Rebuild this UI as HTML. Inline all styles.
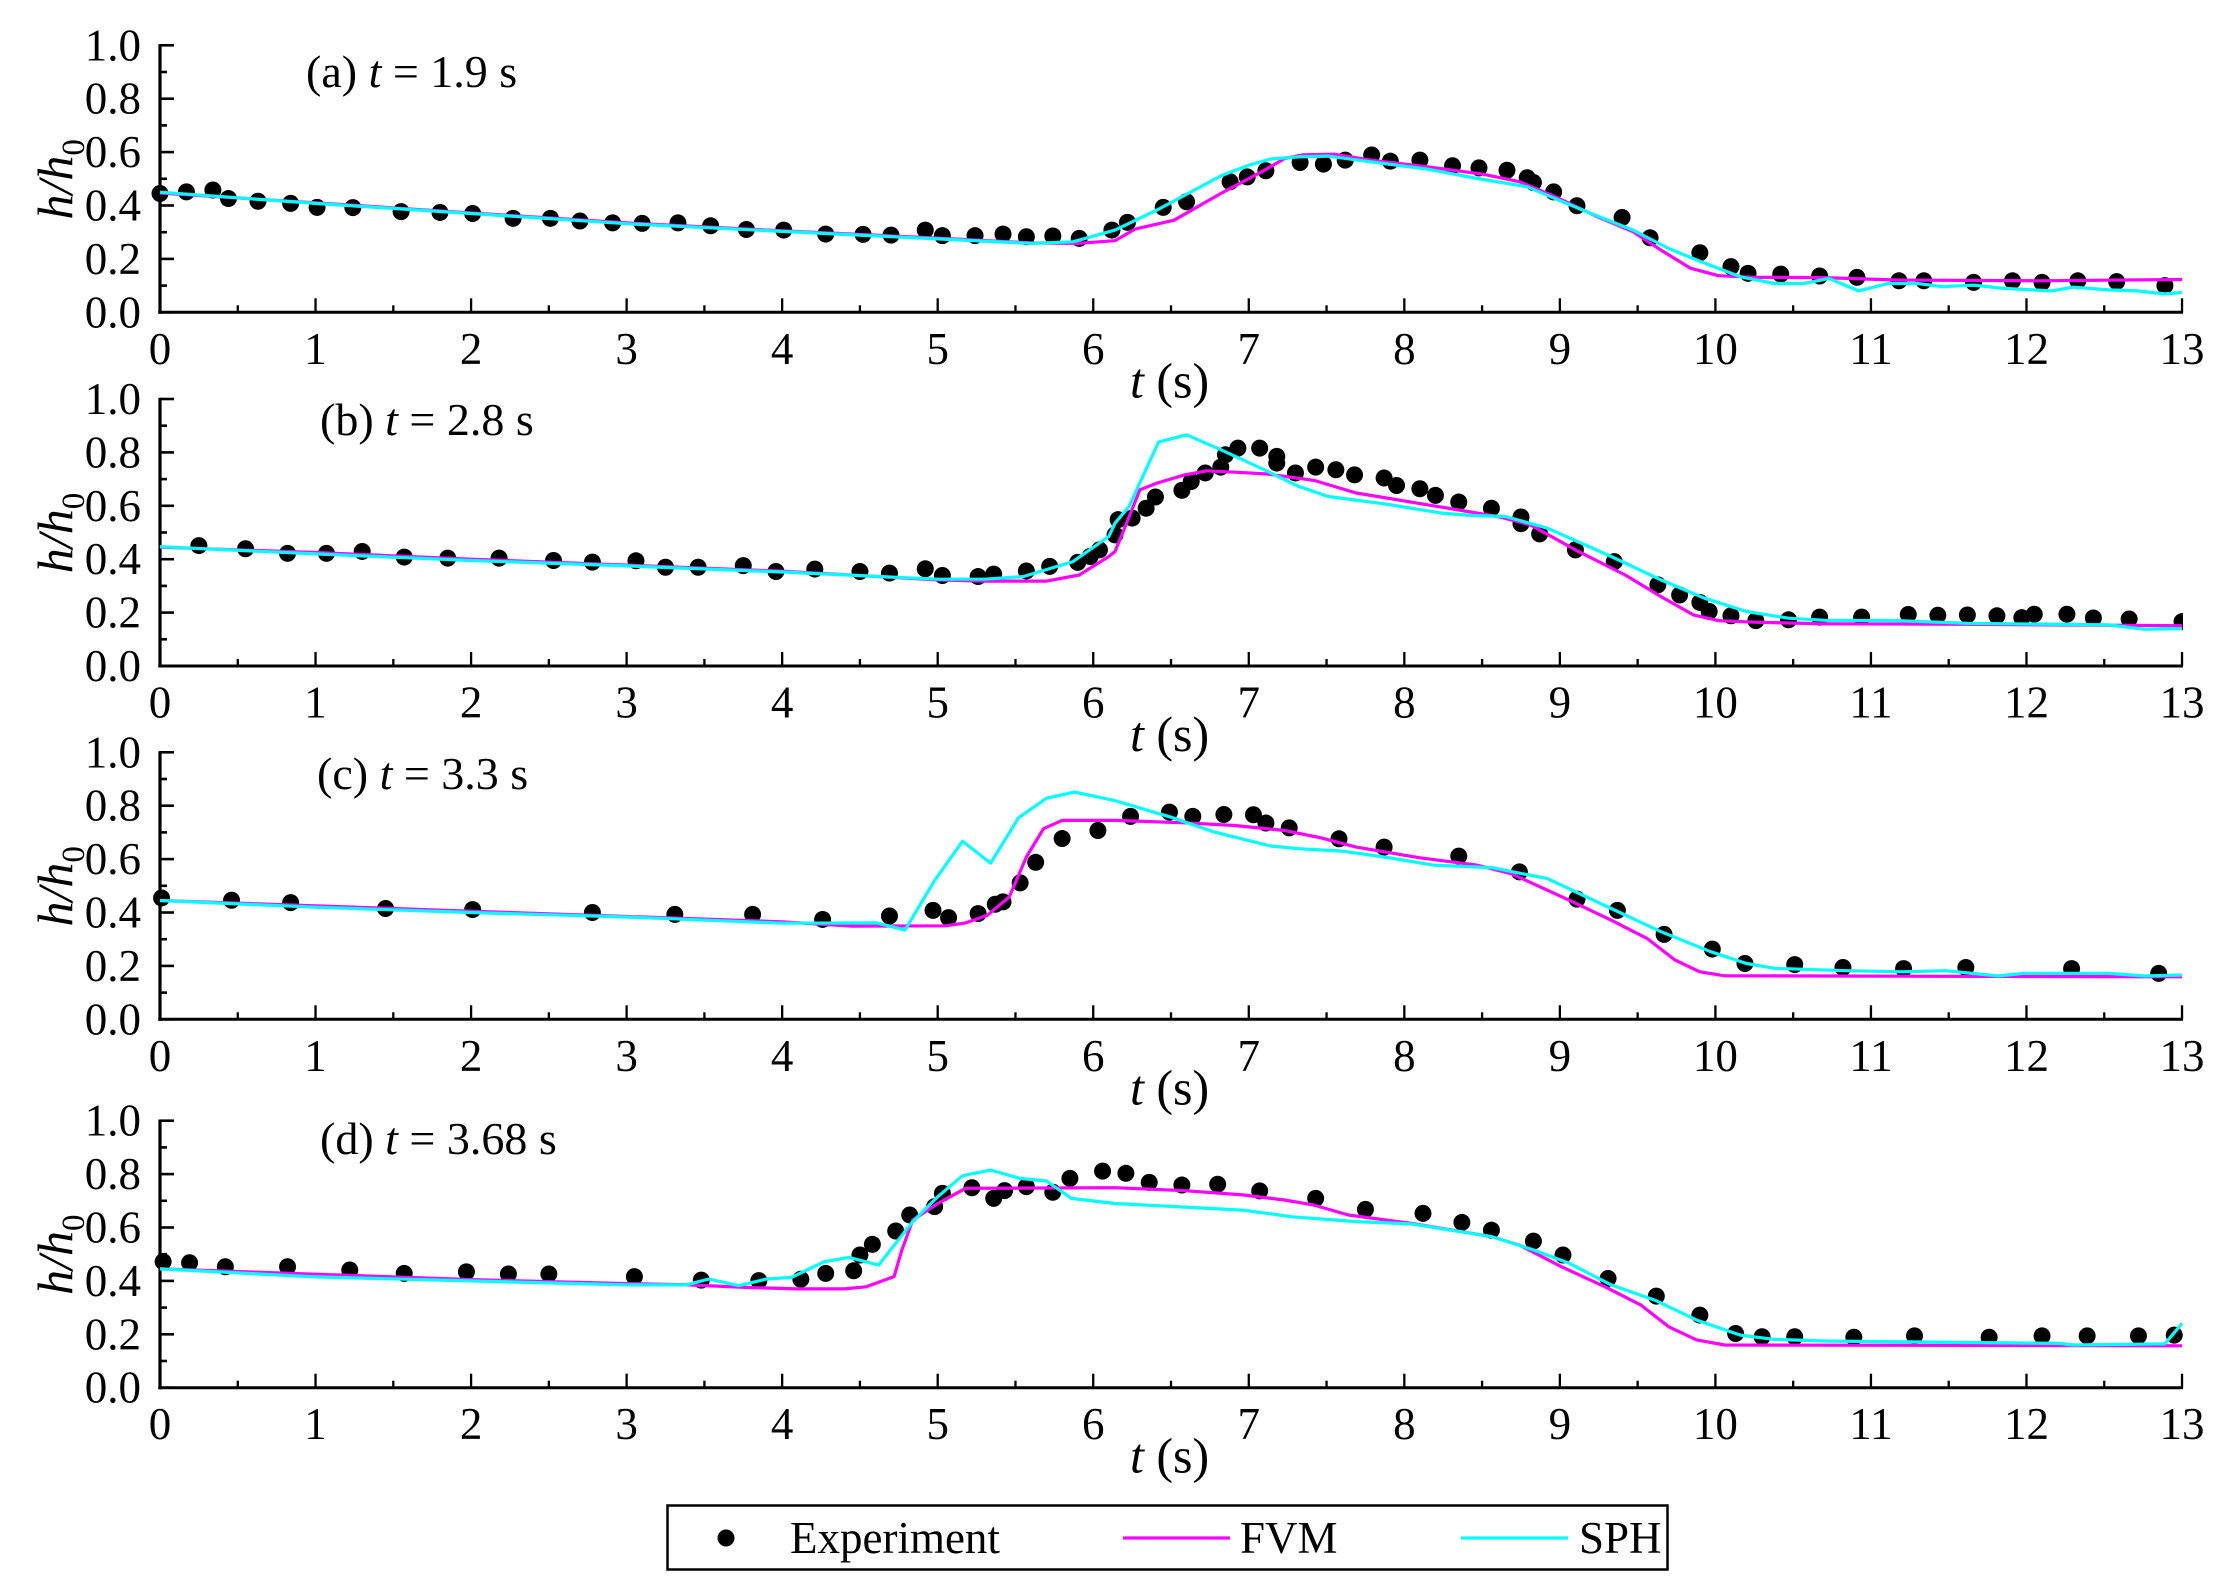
<!DOCTYPE html>
<html lang="en">
<head>
<meta charset="utf-8">
<title>Water depth profiles: Experiment, FVM and SPH</title>
<style>
  html, body { margin: 0; padding: 0; background: #fff; }
  svg { display: block; }
  text { font-family: "Liberation Serif", serif; font-size: 45px; fill: #000; }
  .it { font-style: italic; }
</style>
</head>
<body>
<svg id="chart" xmlns="http://www.w3.org/2000/svg" width="2228" height="1593" viewBox="0 0 2228 1593">
  <defs>
    <clipPath id="plot-clip"><rect x="148" y="0" width="2035" height="1593"></rect></clipPath>
  </defs>
  <rect x="0" y="0" width="2228" height="1593" fill="#fff"></rect>

  <g>
    <rect x="667.5" y="1505.5" width="1000" height="64" fill="#fff" stroke="#000" stroke-width="2.5"></rect>
    <circle cx="726" cy="1538" r="8.5" fill="#000"></circle>
    <text x="790" y="1553">Experiment</text>
    <line x1="1123" y1="1538" x2="1230" y2="1538" stroke="#ff00ff" stroke-width="3.2"></line>
    <text x="1240" y="1553">FVM</text>
    <line x1="1461" y1="1538" x2="1568" y2="1538" stroke="#00ffff" stroke-width="3.2"></line>
    <text x="1579" y="1553">SPH</text>
  </g>
</svg>

<script>
// Axis tick labels
const xTickLabels = ['0','1','2','3','4','5','6','7','8','9','10','11','12','13'];
const yTickLabels = ['0.0','0.2','0.4','0.6','0.8','1.0'];

// Panel (a) t = 1.9 s
const expA_t = [0,0.17,0.34,0.44,0.63,0.84,1.01,1.24,1.55,1.80,2.01,2.27,2.51,2.70,2.91,3.10,3.33,3.54,3.77,4.01,4.28,4.52,4.70,4.92,5.03,5.24,5.42,5.57,5.74,5.91,6.12,6.22,6.45,6.60,6.88,6.99,7.11,7.33,7.48,7.62,7.79,7.91,8.10,8.31,8.48,8.66,8.79,8.83,8.96,9.11,9.40,9.58,9.90,10.10,10.21,10.42,10.67,10.91,11.18,11.34,11.66,11.91,12.10,12.33,12.58,12.89];
const expA_h = [0.445,0.451,0.458,0.426,0.416,0.408,0.393,0.392,0.377,0.374,0.370,0.352,0.352,0.342,0.335,0.333,0.335,0.324,0.310,0.308,0.293,0.292,0.289,0.308,0.287,0.287,0.293,0.283,0.286,0.277,0.308,0.337,0.393,0.414,0.489,0.507,0.530,0.561,0.555,0.570,0.589,0.566,0.570,0.549,0.541,0.532,0.504,0.486,0.451,0.399,0.355,0.279,0.223,0.171,0.146,0.143,0.136,0.131,0.118,0.118,0.112,0.118,0.112,0.118,0.115,0.100];
const fvmA_t = [0,1,2,3,4,5,5.6,5.9,6.14,6.27,6.52,6.82,7.10,7.23,7.35,7.55,7.78,8.15,8.51,8.74,8.97,9.24,9.47,9.65,9.84,10.02,10.25,10.70,11.16,12.07,13];
const fvmA_h = [0.447,0.41,0.372,0.335,0.305,0.278,0.26,0.258,0.268,0.312,0.345,0.445,0.532,0.576,0.59,0.592,0.57,0.545,0.517,0.489,0.433,0.358,0.302,0.233,0.165,0.137,0.131,0.13,0.121,0.118,0.123];
const sphA_t = [0,1,2,3,4,5,5.6,5.87,6.14,6.41,6.59,6.82,7.0,7.14,7.32,7.51,7.74,8.15,8.47,8.79,8.97,9.2,9.47,9.70,9.88,10.16,10.38,10.57,10.73,10.92,11.11,11.30,11.46,11.66,11.85,12.16,12.3,12.53,12.71,12.89,13];
const sphA_h = [0.45,0.408,0.37,0.332,0.303,0.275,0.258,0.264,0.308,0.383,0.439,0.511,0.551,0.574,0.582,0.585,0.567,0.536,0.501,0.47,0.426,0.37,0.308,0.239,0.196,0.133,0.108,0.108,0.127,0.08,0.108,0.108,0.096,0.102,0.09,0.08,0.094,0.084,0.08,0.069,0.074];

// Panel (b) t = 2.8 s
const expB_t = [0.25,0.55,0.82,1.07,1.30,1.57,1.85,2.18,2.53,2.78,3.06,3.25,3.46,3.75,3.96,4.21,4.50,4.69,4.92,5.03,5.26,5.36,5.57,5.72,5.90,5.98,6.04,6.14,6.16,6.25,6.34,6.40,6.57,6.63,6.72,6.82,6.85,6.93,7.07,7.18,7.18,7.30,7.43,7.56,7.68,7.87,7.95,8.10,8.20,8.35,8.56,8.75,8.75,8.87,9.10,9.35,9.63,9.77,9.90,9.96,10.10,10.26,10.47,10.67,10.94,11.24,11.43,11.62,11.81,11.97,12.05,12.26,12.43,12.66,13];
const expB_h = [0.451,0.439,0.422,0.422,0.429,0.408,0.404,0.404,0.395,0.389,0.394,0.370,0.370,0.376,0.354,0.363,0.354,0.348,0.364,0.339,0.335,0.344,0.356,0.373,0.388,0.410,0.435,0.491,0.548,0.554,0.591,0.633,0.658,0.691,0.723,0.745,0.791,0.816,0.816,0.785,0.76,0.723,0.745,0.735,0.716,0.704,0.676,0.664,0.639,0.614,0.591,0.558,0.533,0.495,0.435,0.391,0.304,0.266,0.238,0.204,0.188,0.170,0.173,0.183,0.183,0.193,0.190,0.191,0.188,0.181,0.194,0.194,0.18,0.176,0.166];
const fvmB_t = [0,1,2,3,4,5,5.3,5.7,5.91,6.1,6.14,6.18,6.30,6.41,6.59,6.73,6.91,7.12,7.42,7.69,7.96,8.28,8.60,8.81,9.10,9.42,9.65,9.86,10.02,10.25,10.70,11.62,13];
const fvmB_h = [0.445,0.425,0.40,0.378,0.355,0.3225,0.318,0.318,0.341,0.41,0.429,0.485,0.66,0.685,0.716,0.731,0.726,0.719,0.695,0.648,0.622,0.591,0.56,0.529,0.435,0.341,0.26,0.191,0.17,0.164,0.158,0.156,0.151];
const sphB_t = [0,1,2,3,4,5,5.3,5.55,5.87,6.1,6.14,6.23,6.42,6.60,6.82,7.10,7.32,7.51,7.87,8.24,8.42,8.65,8.92,9.33,9.65,9.93,10.2,10.47,10.70,11.16,11.62,12.53,12.76,13];
const sphB_h = [0.447,0.42,0.395,0.375,0.352,0.325,0.325,0.335,0.391,0.485,0.535,0.5975,0.839,0.866,0.81,0.735,0.6725,0.635,0.6075,0.5725,0.564,0.56,0.516,0.41,0.3225,0.254,0.204,0.179,0.171,0.17,0.16,0.154,0.1375,0.14];

// Panel (c) t = 3.3 s
const expC_t = [0.01,0.46,0.84,1.45,2.01,2.78,3.31,3.81,4.26,4.69,4.97,5.07,5.26,5.37,5.42,5.53,5.63,5.80,6.03,6.24,6.49,6.64,6.84,7.03,7.11,7.26,7.58,7.87,8.35,8.74,9.11,9.37,9.67,9.98,10.19,10.51,10.82,11.21,11.61,12.29,12.85];
const expC_h = [0.4545,0.446,0.437,0.415,0.411,0.40,0.393,0.393,0.374,0.387,0.408,0.381,0.396,0.431,0.44,0.511,0.588,0.677,0.707,0.76,0.776,0.76,0.767,0.766,0.735,0.717,0.676,0.645,0.611,0.552,0.45,0.408,0.318,0.263,0.209,0.205,0.194,0.19,0.194,0.19,0.172];
const fvmC_t = [0,1,2,3,4,4.45,5.05,5.18,5.32,5.46,5.57,5.68,5.8,6.14,6.59,6.91,7.23,7.46,7.69,8.10,8.47,8.69,9.06,9.33,9.56,9.74,9.90,10.06,10.70,13];
const fvmC_h = [0.445,0.425,0.405,0.385,0.365,0.349,0.35,0.361,0.39,0.458,0.608,0.714,0.745,0.745,0.736,0.726,0.707,0.68,0.645,0.605,0.577,0.545,0.446,0.371,0.303,0.222,0.178,0.163,0.162,0.159];
const sphC_t = [0,1,2,3,4,4.61,4.79,4.98,5.16,5.34,5.52,5.70,5.88,6.14,6.50,6.78,7.14,7.32,7.60,7.87,8.19,8.56,8.92,9.33,9.65,9.97,10.2,10.38,10.84,11.21,11.48,11.82,11.98,12.53,12.76,13];
const sphC_h = [0.445,0.42,0.40,0.383,0.36,0.361,0.334,0.52,0.667,0.585,0.755,0.828,0.851,0.819,0.757,0.701,0.649,0.639,0.63,0.608,0.577,0.568,0.527,0.415,0.328,0.253,0.209,0.191,0.182,0.178,0.182,0.162,0.172,0.172,0.162,0.166];

// Panel (d) t = 3.68 s
const expD_t = [0.02,0.19,0.42,0.82,1.22,1.57,1.97,2.24,2.50,3.05,3.48,3.85,4.12,4.28,4.46,4.50,4.58,4.73,4.82,4.98,5.03,5.22,5.36,5.43,5.57,5.74,5.85,6.06,6.21,6.36,6.57,6.80,7.07,7.43,7.75,8.12,8.37,8.56,8.83,9.02,9.31,9.62,9.90,10.13,10.30,10.51,10.89,11.28,11.76,12.10,12.39,12.72,12.95];
const expD_h = [0.472,0.468,0.453,0.453,0.441,0.428,0.434,0.426,0.426,0.416,0.403,0.401,0.406,0.428,0.438,0.497,0.537,0.587,0.647,0.678,0.728,0.749,0.709,0.738,0.753,0.732,0.784,0.811,0.803,0.769,0.759,0.762,0.737,0.709,0.668,0.653,0.619,0.59,0.549,0.497,0.409,0.343,0.272,0.203,0.191,0.191,0.189,0.194,0.189,0.194,0.194,0.194,0.197];
const fvmD_t = [0,1,2,3,3.4,3.8,4.1,4.4,4.54,4.72,4.77,4.84,5,5.18,6.14,6.59,6.96,7.23,7.42,7.64,8.05,8.56,8.74,9.01,9.29,9.52,9.70,9.88,10.06,10.70,13];
const fvmD_h = [0.445,0.425,0.405,0.39,0.385,0.375,0.37,0.37,0.378,0.416,0.516,0.628,0.69,0.747,0.749,0.738,0.722,0.703,0.684,0.647,0.615,0.566,0.534,0.453,0.378,0.31,0.228,0.179,0.16,0.159,0.157];
const sphD_t = [0,1,2,3,3.38,3.53,3.72,3.9,4.06,4.27,4.43,4.62,4.84,5,5.16,5.34,5.53,5.70,5.86,6.14,6.96,7.28,7.69,8.05,8.56,8.83,9.06,9.33,9.61,9.88,10.16,10.38,10.70,11.30,12.21,12.30,12.89,13];
const sphD_h = [0.445,0.415,0.40,0.385,0.385,0.407,0.382,0.407,0.413,0.472,0.488,0.459,0.622,0.715,0.794,0.815,0.784,0.774,0.709,0.69,0.665,0.64,0.622,0.613,0.566,0.516,0.466,0.385,0.328,0.253,0.197,0.181,0.175,0.171,0.166,0.16,0.164,0.241];

const SVG_NS = 'http://www.w3.org/2000/svg';
const svg = document.getElementById('chart');
const X0 = 160, X_PER_SEC = 155.54, PANEL_H = 267;

function xScale(t) { return X0 + t * X_PER_SEC; }
function yScale(h, bottom) { return bottom - h * PANEL_H; }

function make(parent, tag, attrs) {
  const el = document.createElementNS(SVG_NS, tag);
  for (const k in attrs) el.setAttribute(k, attrs[k]);
  parent.appendChild(el);
  return el;
}

function drawAxes(g, key, bottom) {
  const xEnd = xScale(13);
  const top = yScale(1, bottom);

  for (let i = 0; i <= 26; i++) {
    const x = xScale(i / 2);
    const major = i % 2 === 0;
    const tick = make(g, 'line', { x1: x, x2: x, y1: bottom, y2: bottom - (major ? 14 : 7), stroke: '#000', 'stroke-width': 2.3 });
    
    
  }
  for (let i = 0; i <= 10; i++) {
    const y = yScale(i / 10, bottom);
    const major = i % 2 === 0;
    const tick = make(g, 'line', { x1: X0, x2: X0 + (major ? 14 : 7), y1: y, y2: y, stroke: '#000', 'stroke-width': 2.6 });
    
    
  }

  const xAxis = make(g, 'line', { x1: X0 - 1.7, x2: xEnd + 1, y1: bottom, y2: bottom, stroke: '#000', 'stroke-width': 3 });
  
  

  const yAxis = make(g, 'line', { x1: X0, x2: X0, y1: top - 1.2, y2: bottom + 1.5, stroke: '#000', 'stroke-width': 3.2 });
  
  

  xTickLabels.forEach(function (label) {
    const txt = make(g, 'text', { x: xScale(Number(label)), y: bottom + 51.5, 'text-anchor': 'middle' });
    txt.textContent = label;
    
    
  });
  yTickLabels.forEach(function (label) {
    const txt = make(g, 'text', { x: 141, y: yScale(Number(label), bottom) + 15, 'text-anchor': 'end' });
    txt.textContent = label;
    
    
  });

  const xTitle = make(g, 'text', { x: 1130, y: bottom + 85, style: 'font-size:50px' });
  const xT = make(xTitle, 'tspan', { class: 'it' });
  xT.textContent = 't';
  const xU = make(xTitle, 'tspan', {});
  xU.textContent = ' (s)';
  
  

  const cy = bottom - 133;
  const yTitle = make(g, 'text', { transform: 'translate(72,' + cy + ') rotate(-90)', 'text-anchor': 'middle', style: 'font-size:50px' });
  const yH = make(yTitle, 'tspan', { class: 'it' });
  yH.textContent = 'h/h';
  const ySub = make(yTitle, 'tspan', { dy: 12, style: 'font-size:33px' });
  ySub.textContent = '0';
  
  
}

function drawLine(g, name, ts, hs, bottom, colour) {
  const pts = ts.map(function (t, i) { return xScale(t).toFixed(1) + ',' + yScale(hs[i], bottom).toFixed(1); });
  const line = make(g, 'polyline', { points: pts.join(' '), fill: 'none', stroke: colour, 'stroke-width': 3.2, 'stroke-linejoin': 'round' });
  
  
}

function drawPoints(g, name, ts, hs, bottom) {
  const group = make(g, 'g', { 'clip-path': 'url(#plot-clip)' });
  
  
  ts.forEach(function (t, i) {
    const dot = make(group, 'circle', { cx: xScale(t), cy: yScale(hs[i], bottom), r: 8.5, fill: '#000' });
    
    
  });
}

function drawLabel(g, key, x, y, prefix, suffix) {
  const txt = make(g, 'text', { x: x, y: y, style: 'font-size:46px' });
  const a = make(txt, 'tspan', {});
  a.textContent = prefix + ' ';
  const b = make(txt, 'tspan', { class: 'it' });
  b.textContent = 't';
  const c = make(txt, 'tspan', {});
  c.textContent = ' = ' + suffix;
  
  
}

function drawPanel(key, bottom, labelX, labelY, prefix, suffix, expT, expH, fvmT, fvmH, sphT, sphH) {
  const g = make(svg, 'g', {});
  
  
  drawAxes(g, key, bottom);
  drawPoints(g, key + '-experiment', expT, expH, bottom);
  drawLine(g, key + '-fvm-line', fvmT, fvmH, bottom, '#ff00ff');
  drawLine(g, key + '-sph-line', sphT, sphH, bottom, '#00ffff');
  drawLabel(g, key, labelX, labelY, prefix, suffix);
}

drawPanel('panel-a', 312.3, 306, 87, '(a)', '1.9 s', expA_t, expA_h, fvmA_t, fvmA_h, sphA_t, sphA_h);
drawPanel('panel-b', 666, 320, 435, '(b)', '2.8 s', expB_t, expB_h, fvmB_t, fvmB_h, sphB_t, sphB_h);
drawPanel('panel-c', 1019.3, 317, 789, '(c)', '3.3 s', expC_t, expC_h, fvmC_t, fvmC_h, sphC_t, sphC_h);
drawPanel('panel-d', 1387.7, 320, 1154, '(d)', '3.68 s', expD_t, expD_h, fvmD_t, fvmD_h, sphD_t, sphD_h);
</script>
</body>
</html>
